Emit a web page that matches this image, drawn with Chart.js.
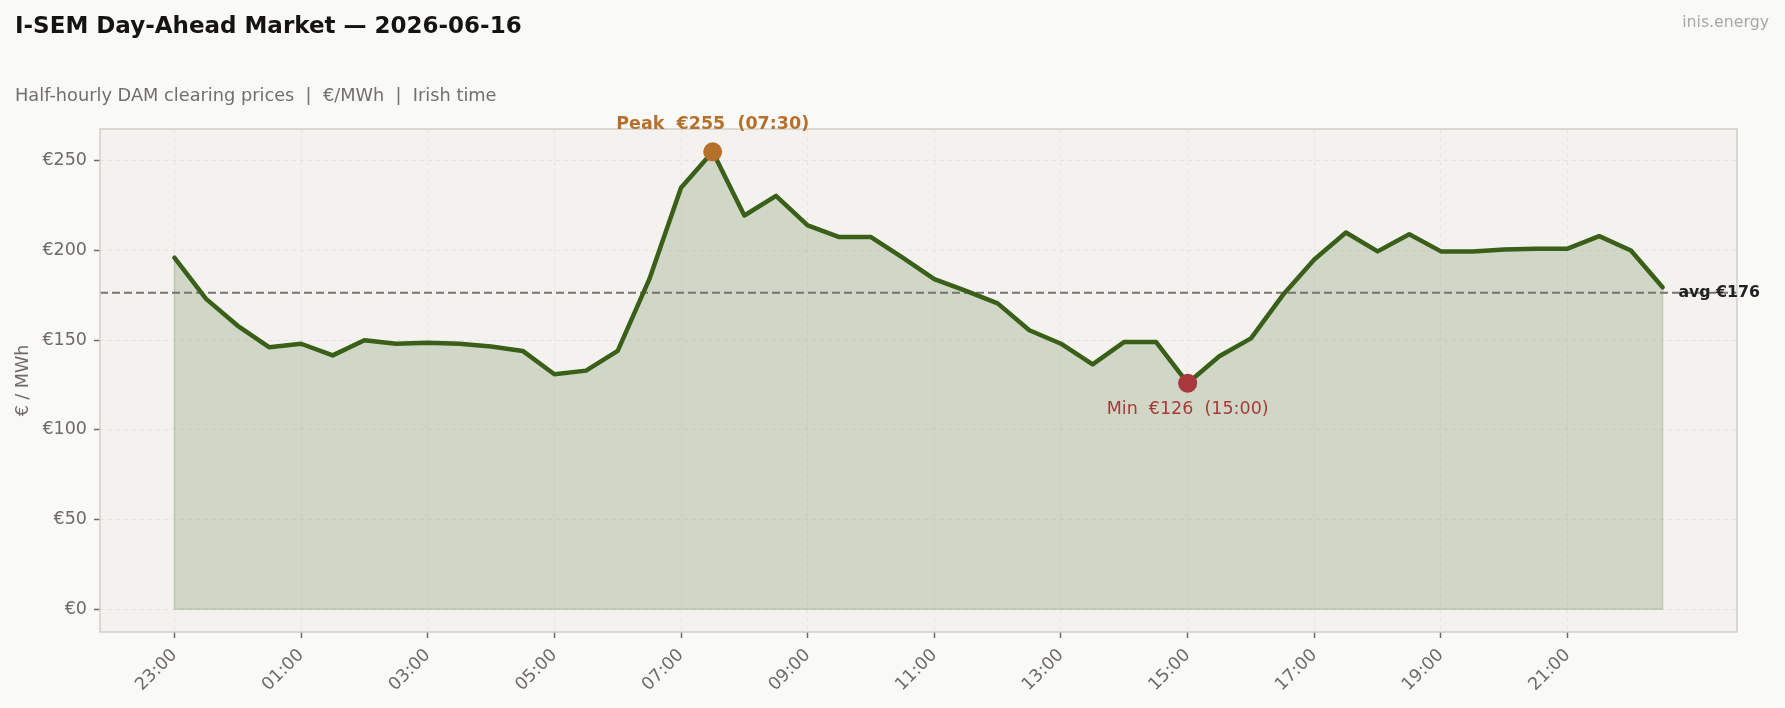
<!DOCTYPE html>
<html>
<head>
<meta charset="utf-8">
<title>I-SEM Day-Ahead Market</title>
<script src="https://cdn.jsdelivr.net/npm/chart.js@4.4.1/dist/chart.umd.min.js"></script>
<style>
  html, body { margin: 0; padding: 0; background: #f9f9f7; }
  #wrap { width: 1785px; height: 708px; }
</style>
</head>
<body>
<div id="wrap"><canvas id="dam" width="1785" height="708"></canvas></div>
<script>
// half-hourly slots, Irish time (trading day starts 23:00)
const slotLabels = [
  "23:00","23:30","00:00","00:30","01:00","01:30","02:00","02:30",
  "03:00","03:30","04:00","04:30","05:00","05:30","06:00","06:30",
  "07:00","07:30","08:00","08:30","09:00","09:30","10:00","10:30",
  "11:00","11:30","12:00","12:30","13:00","13:30","14:00","14:30",
  "15:00","15:30","16:00","16:30","17:00","17:30","18:00","18:30",
  "19:00","19:30","20:00","20:30","21:00","21:30","22:00","22:30"
];

// DAM clearing price, €/MWh
const prices = [
  196, 173, 158, 146, 148, 141.5, 150, 148,
  148.5, 148, 146.5, 144, 131, 133, 144, 184,
  235, 255, 219.5, 230.5, 214, 207.5, 207.5, 196,
  184, 177.5, 170.5, 155.5, 148, 136.5, 149, 149,
  126, 141, 151, 175, 195, 210, 199.5, 209,
  199.5, 199.5, 200.5, 201, 201, 208, 200, 179.5
];

const tickLabels = ["23:00","01:00","03:00","05:00","07:00","09:00","11:00","13:00","15:00","17:00","19:00","21:00"];
const yTicks = [0, 50, 100, 150, 200, 250];

const FONT = "DejaVu Sans";
const GREEN = "#3a5f18";
const PEAK_COL = "#b5712c";
const MIN_COL = "#a8393b";
const TEXT_GREY = "#6e6a66";

let peakIdx = 0, minIdx = 0;
prices.forEach((v, i) => {
  if (v > prices[peakIdx]) peakIdx = i;
  if (v < prices[minIdx]) minIdx = i;
});
const avg = prices.reduce((a, b) => a + b, 0) / prices.length;
const n = prices.length;
const xPad = 0.05 * (n - 1);
const yPad = 0.05 * prices[peakIdx];

const pts = prices.map((v, i) => ({ x: i, y: v }));

const decor = {
  id: "decor",
  beforeDraw(chart) {
    const { ctx, chartArea: a } = chart;
    ctx.save();
    ctx.fillStyle = "#f9f9f7";
    ctx.fillRect(0, 0, chart.width, chart.height);
    ctx.fillStyle = "#f3f2ee";
    ctx.fillRect(a.left, a.top, a.right - a.left, a.bottom - a.top);
    ctx.restore();
  },
  beforeDatasetDraw(chart, args) {
    if (args.index !== 0) return;
    const { ctx, chartArea: a, scales: { x, y } } = chart;
    ctx.save();
    // edge of the filled area
    ctx.strokeStyle = "rgba(58,95,24,0.2)";
    ctx.lineWidth = 1.5;
    ctx.beginPath();
    ctx.moveTo(x.getPixelForValue(0), y.getPixelForValue(0));
    pts.forEach(p => ctx.lineTo(x.getPixelForValue(p.x), y.getPixelForValue(p.y)));
    ctx.lineTo(x.getPixelForValue(n - 1), y.getPixelForValue(0));
    ctx.closePath();
    ctx.stroke();
    // average line
    const ay = y.getPixelForValue(avg);
    ctx.strokeStyle = "#787470";
    ctx.lineWidth = 2;
    ctx.setLineDash([8, 4]);
    ctx.beginPath();
    ctx.moveTo(a.left, ay);
    ctx.lineTo(a.right, ay);
    ctx.stroke();
    ctx.restore();
  },
  afterDraw(chart) {
    const { ctx, chartArea: a, scales: { x, y } } = chart;
    ctx.save();
    ctx.strokeStyle = "#d2cec8";
    ctx.lineWidth = 1.5;
    ctx.strokeRect(a.left, a.top, a.right - a.left, a.bottom - a.top);

    ctx.textBaseline = "alphabetic";
    ctx.textAlign = "left";
    ctx.fillStyle = "#161412";
    ctx.font = "bold 23px '" + FONT + "'";
    ctx.fillText("I-SEM Day-Ahead Market \u2014 2026-06-16", 15, 33);
    ctx.fillStyle = "#73706b";
    ctx.font = "17.75px '" + FONT + "'";
    ctx.fillText("Half-hourly DAM clearing prices  |  \u20ac/MWh  |  Irish time", 15, 101);
    ctx.textAlign = "right";
    ctx.fillStyle = "#aaa7a3";
    ctx.font = "15.75px '" + FONT + "'";
    ctx.fillText("inis.energy", 1769, 27);

    // peak / min annotations
    const px = x.getPixelForValue(peakIdx), py = y.getPixelForValue(prices[peakIdx]);
    ctx.textAlign = "center";
    ctx.fillStyle = PEAK_COL;
    ctx.font = "bold 17.5px '" + FONT + "'";
    ctx.fillText("Peak  \u20ac" + Math.round(prices[peakIdx]) + "  (" + slotLabels[peakIdx] + ")", px, py - 23);
    const mx = x.getPixelForValue(minIdx), my = y.getPixelForValue(prices[minIdx]);
    ctx.fillStyle = MIN_COL;
    ctx.font = "17.5px '" + FONT + "'";
    ctx.fillText("Min  \u20ac" + Math.round(prices[minIdx]) + "  (" + slotLabels[minIdx] + ")", mx, my + 31);

    // average label
    ctx.textAlign = "left";
    ctx.textBaseline = "middle";
    ctx.fillStyle = "#222";
    ctx.font = "bold 15.75px '" + FONT + "'";
    ctx.fillText("avg \u20ac" + Math.round(avg), x.getPixelForValue(n - 1 + 0.5), y.getPixelForValue(avg));
    ctx.restore();
  }
};

new Chart(document.getElementById("dam"), {
  type: "line",
  data: {
    datasets: [
      {
        data: pts,
        order: 2,
        borderColor: GREEN,
        borderWidth: 4.5,
        backgroundColor: "rgba(58,95,24,0.18)",
        fill: "origin",
        tension: 0,
        pointRadius: 0,
        borderJoinStyle: "round",
        borderCapStyle: "round"
      },
      {
        data: [{ x: peakIdx, y: prices[peakIdx] }],
        order: 0,
        showLine: false,
        pointRadius: 9.5,
        pointBackgroundColor: PEAK_COL,
        pointBorderWidth: 0
      },
      {
        data: [{ x: minIdx, y: prices[minIdx] }],
        order: 0,
        showLine: false,
        pointRadius: 9.5,
        pointBackgroundColor: MIN_COL,
        pointBorderWidth: 0
      }
    ]
  },
  options: {
    responsive: false,
    animation: false,
    devicePixelRatio: 1,
    layout: { padding: { top: 129, right: 48, bottom: 0, left: 0 } },
    plugins: {
      legend: { display: false },
      tooltip: { enabled: false }
    },
    scales: {
      x: {
        type: "linear",
        min: -xPad,
        max: n - 1 + xPad,
        afterBuildTicks: s => { s.ticks = tickLabels.map(t => ({ value: slotLabels.indexOf(t) })); },
        afterFit: s => { s.height = 76; },
        grid: { color: "#e6e3de", lineWidth: 1, tickLength: 6, tickColor: "#6e6a66", tickWidth: 1.5 },
        border: { display: false, dash: [4, 4] },
        ticks: {
          autoSkip: false,
          minRotation: 45,
          maxRotation: 45,
          padding: 7,
          color: TEXT_GREY,
          font: { family: FONT, size: 17.5 },
          callback: v => slotLabels[v]
        }
      },
      y: {
        type: "linear",
        min: -yPad,
        max: prices[peakIdx] + yPad,
        afterBuildTicks: s => { s.ticks = yTicks.map(v => ({ value: v })); },
        afterFit: s => { s.width = 100; },
        grid: { color: "#e6e3de", lineWidth: 1, tickLength: 6, tickColor: "#6e6a66", tickWidth: 1.5 },
        border: { display: false, dash: [4, 4] },
        title: {
          display: true,
          text: "\u20ac / MWh",
          color: TEXT_GREY,
          font: { family: FONT, size: 17.5 },
          padding: { top: 13, bottom: 0 }
        },
        ticks: {
          padding: 7,
          color: TEXT_GREY,
          font: { family: FONT, size: 17.5 },
          callback: v => "\u20ac" + v
        }
      }
    }
  },
  plugins: [decor]
});
</script>
</body>
</html>
